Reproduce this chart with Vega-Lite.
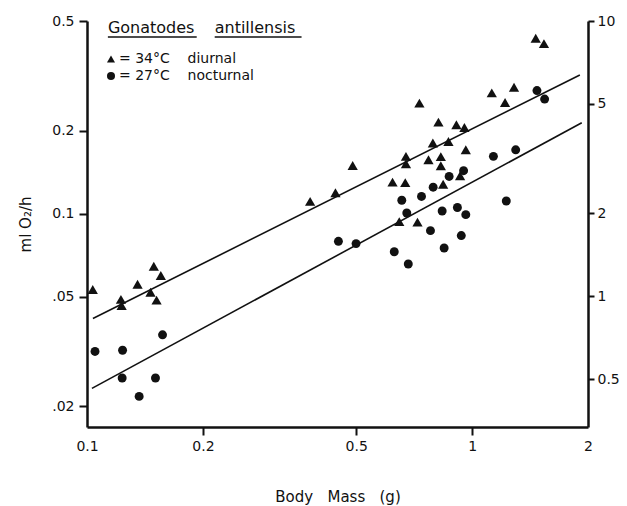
{
  "$schema": "https://vega.github.io/schema/vega-lite/v6.json",
  "width": 501,
  "height": 406,
  "autosize": "none",
  "padding": {"left": 87, "top": 21, "right": 39, "bottom": 79},
  "background": "white",
  "config": {
    "view": {"stroke": null},
    "font": "DejaVu Sans",
    "axis": {
      "domainColor": "#111",
      "domainWidth": 2.5,
      "tickColor": "#111",
      "tickWidth": 2,
      "tickSize": 8,
      "labelColor": "#111",
      "labelFontSize": 14,
      "labelFont": "DejaVu Sans",
      "titleFont": "DejaVu Sans",
      "titleFontSize": 15,
      "titleFontWeight": "normal",
      "titleColor": "#111",
      "grid": false
    },
    "legend": {
      "orient": "none",
      "legendX": 17,
      "legendY": 31,
      "padding": 0,
      "labelFontSize": 14,
      "labelFont": "DejaVu Sans",
      "labelColor": "#111",
      "symbolSize": 65,
      "symbolFillColor": "#111",
      "symbolStrokeColor": "#111",
      "rowPadding": 2,
      "labelOffset": 1
    }
  },
  "datasets": {
    "points": [
      {"mass": 0.1035, "ml": 0.0530, "cond": "34"},
      {"mass": 0.1225, "ml": 0.0488, "cond": "34"},
      {"mass": 0.1230, "ml": 0.0464, "cond": "34"},
      {"mass": 0.1353, "ml": 0.0554, "cond": "34"},
      {"mass": 0.1462, "ml": 0.0518, "cond": "34"},
      {"mass": 0.1491, "ml": 0.0644, "cond": "34"},
      {"mass": 0.1516, "ml": 0.0485, "cond": "34"},
      {"mass": 0.1555, "ml": 0.0596, "cond": "34"},
      {"mass": 0.3797, "ml": 0.1107, "cond": "34"},
      {"mass": 0.4418, "ml": 0.1190, "cond": "34"},
      {"mass": 0.4897, "ml": 0.1495, "cond": "34"},
      {"mass": 0.6215, "ml": 0.1300, "cond": "34"},
      {"mass": 0.6706, "ml": 0.1295, "cond": "34"},
      {"mass": 0.6734, "ml": 0.1613, "cond": "34"},
      {"mass": 0.6734, "ml": 0.1516, "cond": "34"},
      {"mass": 0.7215, "ml": 0.0931, "cond": "34"},
      {"mass": 0.6470, "ml": 0.0935, "cond": "34"},
      {"mass": 0.7298, "ml": 0.2518, "cond": "34"},
      {"mass": 0.7705, "ml": 0.1568, "cond": "34"},
      {"mass": 0.7910, "ml": 0.1803, "cond": "34"},
      {"mass": 0.8178, "ml": 0.2148, "cond": "34"},
      {"mass": 0.8296, "ml": 0.1609, "cond": "34"},
      {"mass": 0.8296, "ml": 0.1491, "cond": "34"},
      {"mass": 0.8411, "ml": 0.1278, "cond": "34"},
      {"mass": 0.8681, "ml": 0.1827, "cond": "34"},
      {"mass": 0.9105, "ml": 0.2100, "cond": "34"},
      {"mass": 0.9551, "ml": 0.2053, "cond": "34"},
      {"mass": 0.9631, "ml": 0.1704, "cond": "34"},
      {"mass": 0.9308, "ml": 0.1372, "cond": "34"},
      {"mass": 1.125, "ml": 0.2742, "cond": "34"},
      {"mass": 1.218, "ml": 0.2529, "cond": "34"},
      {"mass": 1.285, "ml": 0.2875, "cond": "34"},
      {"mass": 1.463, "ml": 0.4329, "cond": "34"},
      {"mass": 1.537, "ml": 0.4138, "cond": "34"},
      {"mass": 0.1049, "ml": 0.0316, "cond": "27"},
      {"mass": 0.1237, "ml": 0.0319, "cond": "27"},
      {"mass": 0.1571, "ml": 0.0363, "cond": "27"},
      {"mass": 0.1234, "ml": 0.0253, "cond": "27"},
      {"mass": 0.1506, "ml": 0.0253, "cond": "27"},
      {"mass": 0.1366, "ml": 0.0217, "cond": "27"},
      {"mass": 0.4497, "ml": 0.0793, "cond": "27"},
      {"mass": 0.4997, "ml": 0.0778, "cond": "27"},
      {"mass": 0.6279, "ml": 0.0727, "cond": "27"},
      {"mass": 0.6568, "ml": 0.1118, "cond": "27"},
      {"mass": 0.6767, "ml": 0.1005, "cond": "27"},
      {"mass": 0.6828, "ml": 0.0656, "cond": "27"},
      {"mass": 0.7390, "ml": 0.1154, "cond": "27"},
      {"mass": 0.7797, "ml": 0.0867, "cond": "27"},
      {"mass": 0.7924, "ml": 0.1247, "cond": "27"},
      {"mass": 0.8361, "ml": 0.1022, "cond": "27"},
      {"mass": 0.8461, "ml": 0.0750, "cond": "27"},
      {"mass": 0.8718, "ml": 0.1364, "cond": "27"},
      {"mass": 0.9160, "ml": 0.1052, "cond": "27"},
      {"mass": 0.9375, "ml": 0.0832, "cond": "27"},
      {"mass": 0.9505, "ml": 0.1431, "cond": "27"},
      {"mass": 0.9631, "ml": 0.0991, "cond": "27"},
      {"mass": 1.136, "ml": 0.1613, "cond": "27"},
      {"mass": 1.227, "ml": 0.1111, "cond": "27"},
      {"mass": 1.298, "ml": 0.1704, "cond": "27"},
      {"mass": 1.474, "ml": 0.2795, "cond": "27"},
      {"mass": 1.543, "ml": 0.2604, "cond": "27"}
    ],
    "fits": [
      {"mass": 0.1036, "ml": 0.0416, "cond": "34"},
      {"mass": 1.905, "ml": 0.3186, "cond": "34"},
      {"mass": 0.103, "ml": 0.0232, "cond": "27"},
      {"mass": 1.927, "ml": 0.2136, "cond": "27"}
    ],
    "notes": [
      {"mass": 0.1133, "ml": 0.452, "text": "Gonatodes"},
      {"mass": 0.2146, "ml": 0.452, "text": "antillensis"}
    ],
    "underlines": [
      {"mass": 0.1133, "mass2": 0.1927, "ml": 0.4375},
      {"mass": 0.2146, "mass2": 0.3607, "ml": 0.4375}
    ],
    "right": [
      {"jh": 0.5}, {"jh": 1}, {"jh": 2}, {"jh": 5}, {"jh": 10}
    ]
  },
  "layer": [
    {
      "layer": [
        {
          "data": {"name": "fits"},
          "mark": {"type": "line", "color": "#111", "strokeWidth": 1.6},
          "encoding": {
            "x": {"field": "mass", "type": "quantitative"},
            "y": {"field": "ml", "type": "quantitative"},
            "detail": {"field": "cond"}
          }
        },
        {
          "data": {"name": "points"},
          "mark": {"type": "point", "filled": true, "color": "#111", "opacity": 1},
          "encoding": {
            "x": {
              "field": "mass", "type": "quantitative",
              "scale": {"type": "log", "domain": [0.1, 2], "nice": false, "zero": false},
              "axis": {
                "values": [0.1, 0.2, 0.5, 1, 2],
                "labelExpr": "format(datum.value, '~g')",
                "title": "Body\u00a0\u00a0 Mass\u00a0\u00a0 (g)",
                "titlePadding": 36,
                "labelPadding": 4,
                "labelFlush": false,
                "tickOpacity": {"condition": {"test": "datum.value > 0.15 && datum.value < 1.5", "value": 1}, "value": 0}
              }
            },
            "y": {
              "field": "ml", "type": "quantitative",
              "scale": {"type": "log", "domain": [0.0168, 0.5], "nice": false, "zero": false},
              "axis": {
                "values": [0.02, 0.05, 0.1, 0.2, 0.5],
                "labelExpr": "datum.value >= 0.1 ? format(datum.value, '.1f') : '.0' + format(datum.value * 100, 'd')",
                "title": "ml O\u2082/h",
                "titlePadding": 18,
                "labelPadding": 5,
                "labelFlush": false
              }
            },
            "shape": {
              "field": "cond", "type": "nominal",
              "scale": {"domain": ["34", "27"], "range": ["triangle-up", "circle"]},
              "legend": {
                "title": null,
                "labelExpr": "datum.value == '34' ? '= 34°C\u00a0\u00a0\u00a0 diurnal' : '= 27°C\u00a0\u00a0\u00a0 nocturnal'"
              }
            },
            "size": {
              "condition": {"test": "datum.cond == '34'", "value": 105},
              "value": 80
            }
          }
        },
        {
          "data": {"name": "notes"},
          "mark": {"type": "text", "align": "left", "baseline": "alphabetic", "fontSize": 16, "color": "#111", "font": "DejaVu Sans"},
          "encoding": {
            "x": {"field": "mass", "type": "quantitative"},
            "y": {"field": "ml", "type": "quantitative"},
            "text": {"field": "text"}
          }
        },
        {
          "data": {"name": "underlines"},
          "mark": {"type": "rule", "color": "#111", "strokeWidth": 1.6},
          "encoding": {
            "x": {"field": "mass", "type": "quantitative"},
            "x2": {"field": "mass2"},
            "y": {"field": "ml", "type": "quantitative"}
          }
        }
      ]
    },
    {
      "data": {"name": "right"},
      "mark": {"type": "point", "opacity": 0},
      "encoding": {
        "y": {
          "field": "jh", "type": "quantitative",
          "scale": {"type": "log", "domain": [0.335, 10], "nice": false, "zero": false},
          "axis": {
            "orient": "right",
            "values": [0.5, 1, 2, 5, 10],
            "labelExpr": "format(datum.value, '~g')",
            "title": null,
            "labelPadding": 3,
            "tickSize": 6,
            "labelFlush": false
          }
        }
      }
    }
  ],
  "resolve": {"scale": {"y": "independent"}}
}
